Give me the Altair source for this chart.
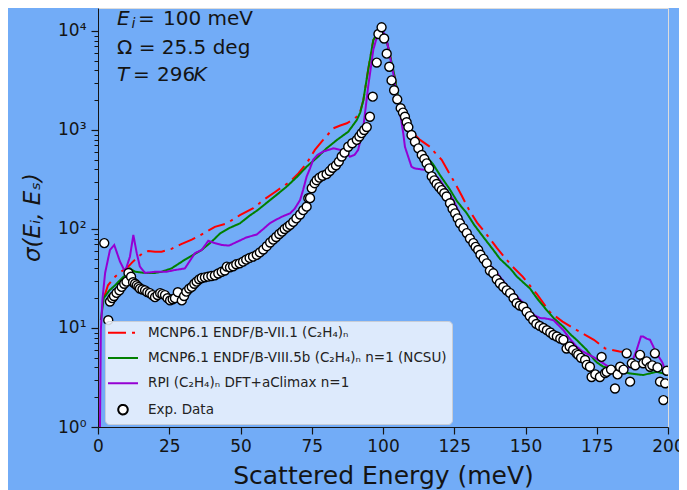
import altair as alt
import pandas as pd

S_RED = "MCNP6.1 ENDF/B-VII.1 (C₂H₄)ₙ"
S_GREEN = "MCNP6.1 ENDF/B-VIII.5b (C₂H₄)ₙ n=1 (NCSU)"
S_PURPLE = "RPI (C₂H₄)ₙ DFT+aClimax n=1"
S_EXP = "Exp. Data"

series_names = [S_RED, S_GREEN, S_PURPLE, S_EXP]
series_colors = ["#ff0000", "#008000", "#9400d3", "#000000"]

x_ticks = [0, 25, 50, 75, 100, 125, 150, 175, 200]
y_major = [1, 10, 100, 1000, 10000]
y_minor = [m * 10 ** k for k in range(4) for m in range(2, 10)]

red_curve = [(2, 20), (3.5, 27), (6, 33), (8, 37), (10, 40), (12, 46), (14, 52), (16, 58), (17.7, 60),
             (20, 59), (22.3, 59), (25.8, 63), (29, 70), (32.9, 78), (37, 90), (41, 105), (45.2, 114),
             (49.8, 138), (54.5, 162), (58, 196), (62, 235), (64, 258), (67.4, 301), (70.3, 364),
             (73.2, 460), (76.1, 630), (79, 795), (82.6, 1040), (85, 1110), (87.3, 1170), (89.5, 1280),
             (91.7, 1420), (93.1, 2000), (94.8, 4060), (96.6, 8100), (98.7, 10200), (100.1, 9400),
             (101.5, 7500), (103.6, 4060), (106, 1720), (108.3, 1100), (110, 960), (113, 795),
             (116.5, 676), (118, 600), (120.6, 500), (122.9, 380), (125, 300), (127.5, 220), (130, 160),
             (133, 116), (136, 91), (140, 64), (145, 43), (149, 33), (154, 22), (158.5, 14.5), (163, 11.6),
             (168, 9.5), (174, 7.6), (178, 6.2), (183, 5.8), (189, 5.5), (193, 4.8), (196, 4.1), (199.5, 3.6)]

green_curve = [(1.0, 12), (2, 20), (4, 24), (6, 27), (8, 31), (9.5, 34), (11.2, 40), (13, 37), (16.5, 36),
               (20, 36), (22.3, 37), (25.8, 40), (28, 44), (30.5, 49), (33, 54), (36.4, 61.5), (40, 75),
               (42.8, 90), (46, 102), (49.8, 114), (53, 135), (56, 155), (60.4, 196), (63, 225), (66.2, 268),
               (70, 340), (73.2, 426), (77, 530), (80.2, 653), (84, 800), (87.8, 960), (90.8, 1260),
               (92, 1500), (93.1, 2000), (94.8, 4060), (96.6, 8100), (98.7, 10200), (100.1, 9400),
               (101.5, 7500), (103.6, 4060), (106, 1720), (108.3, 1070), (109.5, 930), (113, 650),
               (117.6, 450), (120, 350), (123.5, 250), (126, 190), (129.4, 144), (132, 110), (135.2, 83),
               (138.7, 61.5), (141, 50), (144.6, 40), (147, 33), (151.6, 25), (154, 20), (157.4, 15.2),
               (160, 12.5), (163.3, 10.3), (166, 8.5), (167.9, 7.6), (171.5, 6.0), (173.8, 4.9), (175, 4.5),
               (177.3, 4.06), (180, 3.9), (182, 3.76), (186.7, 3.47), (191.3, 3.35), (194, 3.5), (196, 3.6),
               (198, 3.5), (199.5, 3.35)]

purple_curve = [(0.6, 0.5), (1.0, 9.6), (1.6, 20), (2.5, 36), (4.2, 61.5), (5.7, 69), (7.7, 47), (9.5, 37),
                (11.2, 52.5), (12.4, 87), (13.6, 57), (14.7, 41.7), (16.5, 36), (20, 37), (24, 37), (27, 38.5),
                (30.5, 40), (34, 57), (36.4, 61.5), (38.7, 76), (41, 72), (43.4, 69), (46, 68), (48.7, 74),
                (52, 82), (55.7, 88), (58, 100), (60.4, 115), (62.7, 125), (65, 135), (67.4, 144), (69, 160),
                (70.9, 196), (72, 250), (73.2, 338), (74.4, 410), (75.5, 500), (77, 560), (79, 605),
                (82.6, 653), (85, 630), (87.3, 580), (88.4, 537), (90, 560), (91.3, 630), (93.1, 1070),
                (94.8, 2750), (96.6, 6460), (98, 9000), (99.2, 10200), (100.2, 9700), (101.3, 8100),
                (103.6, 3720), (106, 1480), (107.1, 930), (107.7, 676), (110, 426), (111, 410), (114.2, 397),
                (115.3, 410), (118.8, 338), (120, 311), (122.3, 247), (124.7, 196), (127, 140), (129.4, 97),
                (131, 75), (133, 60), (136.4, 45), (138.7, 40), (141, 33), (143.4, 27), (146.9, 21),
                (150.4, 16.4), (153, 13.5), (155.1, 12.6), (157, 12.5), (159.8, 12), (163.3, 9.5), (166, 7.5),
                (167.9, 6.5), (170, 5.8), (173.8, 5.1), (177.3, 4.4), (180, 3.9), (183.2, 3.6), (186.7, 4.06),
                (189, 6.0), (190.5, 8.2), (191.3, 8.2), (192.5, 7.8), (193.7, 7.6), (196, 5.55), (198, 4.5),
                (199.5, 3.47)]

exp_points = [(2.2, 72), (3.6, 12), (4.2, 18.5), (5.0, 20), (5.6, 21), (6.5, 22.6), (7.5, 24), (8.3, 26),
              (9.2, 28), (10.0, 29.4), (10.7, 36), (11.6, 33), (12.3, 29), (13.0, 28), (13.6, 27), (14.2, 26),
              (14.7, 25), (15.6, 24.5), (16.5, 24), (17.3, 23), (18.2, 22.5), (19.1, 21.5), (20.0, 20.5),
              (20.9, 21.5), (21.8, 22.5), (22.6, 22), (23.5, 21.5), (24.4, 20), (25.3, 19), (26.2, 19.5),
              (27.0, 20), (28.0, 23), (29.4, 19), (30.2, 21), (31.0, 23.3), (32.0, 25), (32.9, 26), (33.8, 28),
              (34.6, 29.4), (35.5, 31), (36.4, 32), (37.5, 32.5), (38.6, 33), (39.8, 33.5), (41.0, 34),
              (42.2, 35.5), (43.4, 37), (44.5, 38), (45.2, 41.7), (46.3, 41), (47.4, 42), (48.5, 44),
              (49.7, 45), (50.9, 46.8), (52.0, 49), (53.2, 51), (54.4, 52.5), (55.7, 54.8), (56.8, 58),
              (58.0, 62), (59.2, 67), (60.4, 73), (61.5, 78), (62.5, 83), (63.6, 89), (64.6, 94), (65.5, 100),
              (66.5, 105), (67.4, 110), (68.5, 118), (69.6, 128), (70.9, 140), (72.0, 155), (73.2, 168),
              (73.8, 205), (74.4, 205), (75.0, 258), (76.0, 290), (76.7, 311), (77.7, 330), (78.8, 345),
              (80.2, 358), (81.3, 385), (82.3, 415), (83.5, 440), (84.5, 480), (85.5, 540), (86.5, 590),
              (87.8, 677), (89.2, 735), (90.8, 795), (91.7, 860), (92.5, 930), (93.4, 1000), (94.3, 1070),
              (95.4, 1360), (96.4, 2170), (97.8, 4800), (98.4, 9330), (99.5, 10900), (100.4, 8400),
              (101.3, 5900), (102.2, 4350), (103.0, 3170), (103.9, 2520), (105.0, 2040), (106.2, 1660),
              (107.0, 1500), (107.7, 1360), (108.3, 1200), (108.9, 1070), (110.0, 890), (111.2, 760),
              (112.4, 653), (113.6, 560), (114.5, 510), (115.3, 460), (116.2, 410), (117.1, 340), (118.0, 310),
              (118.8, 285), (119.7, 265), (120.6, 247), (121.5, 230), (122.3, 213), (123.5, 182), (124.4, 160),
              (125.3, 144), (126.2, 128), (127.0, 114), (128.2, 102), (129.4, 91), (130.5, 80), (131.7, 72),
              (132.5, 66), (133.4, 61.5), (134.2, 55), (135.3, 50), (136.4, 45), (137.5, 38), (138.7, 35.7),
              (139.9, 31), (141.0, 28.3), (142.2, 26), (143.4, 24), (144.6, 22.5), (145.8, 20), (146.9, 17.8),
              (148.0, 16.8), (149.2, 16.4), (150.4, 14.6), (151.5, 13.2), (152.7, 12), (153.8, 11),
              (155.0, 10.5), (156.3, 10), (157.5, 9.5), (158.7, 9), (159.8, 8.5), (161.0, 8.2), (162.2, 7.8),
              (163.3, 7.6), (164.4, 6.2), (165.5, 6.5), (166.7, 6.0), (167.9, 5.55), (168.5, 5.36),
              (169.5, 5.0), (170.9, 4.76), (171.5, 4.24), (172.6, 4.06), (173.2, 3.2), (174.5, 3.4),
              (176.1, 3.2), (176.7, 5.1), (177.9, 3.5), (178.5, 3.6), (180.0, 3.8), (181.4, 2.45), (182.3, 3.4),
              (183.2, 4.06), (184.4, 3.8), (185.5, 5.55), (186.7, 2.87), (187.3, 4.4), (188.5, 4.2),
              (190.2, 5.36), (191.3, 4.4), (192.5, 4.6), (193.7, 4.06), (194.5, 4.2), (195.4, 5.55),
              (196.3, 4.0), (197.2, 2.87), (198.4, 1.87), (199.0, 2.76), (199.6, 3.7)]


def frame(pairs, name):
    return pd.DataFrame({"E": [p[0] for p in pairs], "sigma": [p[1] for p in pairs], "series": name})


lines_df = pd.concat([frame(red_curve, S_RED), frame(green_curve, S_GREEN), frame(purple_curve, S_PURPLE)])
exp_df = frame(exp_points, S_EXP)

FONT = "DejaVu Sans"
BG = "#72acf7"
INK = "#141414"

x_enc = alt.X("E:Q", scale=alt.Scale(domain=[0, 200], nice=False, zero=False),
              axis=alt.Axis(values=x_ticks, grid=False, tickSize=7, tickWidth=1.2, tickColor=INK,
                            domainColor=INK, labelFontSize=17, labelColor=INK, labelFont=FONT,
                            labelPadding=4, labelFlush=False,
                            title="Scattered Energy (meV)", titleFontSize=25, titleFont=FONT,
                            titleFontWeight="normal", titleColor=INK,
                            titleX=285, titleY=56, titleAlign="center", titleBaseline="alphabetic"))
y_scale = alt.Scale(type="log", domain=[1, 17070], nice=False)
y_axis = alt.Axis(values=y_major, grid=False, tickSize=7, tickWidth=1.2, tickColor=INK, domainColor=INK,
                  labelFontSize=17, labelColor=INK, labelFont=FONT, labelPadding=5, labelFlush=False,
                  labelExpr="'10' + ['⁰','¹','²','³','⁴'][round(log(datum.value)/LN10)]",
                  title="σ(Eᵢ, Eₛ)", titleFontSize=23, titleFont=FONT, titleFontStyle="italic",
                  titleFontWeight="normal", titleColor=INK, titleAngle=270, titleAlign="center",
                  titleBaseline="bottom", titleX=-54, titleY=209)

circle_path = "M-1,0A1,1,0,1,0,1,0A1,1,0,1,0,-1,0Z"
stroke_path = "M-3.16,0L3.16,0"


def make_legend():
    return alt.Legend(
        title=None, orient="none", legendX=7, legendY=313,
        symbolSize=90, symbolStrokeWidth=2, symbolOffset=6.25, symbolFillColor="#ffffff", symbolOpacity=1,
        labelFont=FONT, labelFontSize=13.5, labelColor="#222222", labelLimit=600, labelOffset=18.25,
        padding=5, rowPadding=10.3, fillColor="rgba(236,243,253,0.88)", strokeColor="#c8cdd6",
        cornerRadius=4,
    )


color_enc = alt.Color("series:N", scale=alt.Scale(domain=series_names, range=series_colors),
                      legend=make_legend())

lines = alt.Chart(lines_df).mark_line(strokeWidth=2, clip=True).encode(
    x=x_enc,
    y=alt.Y("sigma:Q", scale=y_scale, axis=y_axis),
    color=color_enc,
    strokeDash=alt.StrokeDash("series:N",
                              scale=alt.Scale(domain=series_names,
                                              range=[[18, 6, 3, 6], [1, 0], [1, 0], [1, 0]]),
                              legend=make_legend()),
)

points = alt.Chart(exp_df).mark_point(filled=False, size=80, strokeWidth=1.4, opacity=1, clip=True).encode(
    x=x_enc,
    y=alt.Y("sigma:Q", scale=y_scale, axis=y_axis),
    color=color_enc,
    shape=alt.Shape("series:N",
                    scale=alt.Scale(domain=series_names,
                                    range=[stroke_path, stroke_path, stroke_path, circle_path]),
                    legend=make_legend()),
    fill=alt.value("#ffffff"),
)

minor_df = pd.DataFrame({"v": y_minor})
minor = alt.Chart(minor_df).mark_point(opacity=0).encode(
    y=alt.Y("v:Q", scale=y_scale,
            axis=alt.Axis(orient="left", values=y_minor, labels=False, domain=False, grid=False,
                          tickSize=4, tickWidth=1, tickColor=INK, title=None)),
)

anno_df = pd.DataFrame({"k": [0]})


def txt(s, x, y, size=20, style="normal"):
    return alt.Chart(anno_df).mark_text(text=s, font=FONT, fontSize=size, fontStyle=style, align="left",
                                        baseline="alphabetic", color=INK).encode(
        x=alt.value(x), y=alt.value(y))


texts = [
    txt("E", 19, 16.5, style="italic"),
    txt("i", 33.5, 19.5, size=14, style="italic"),
    txt("=", 40, 16.5),
    txt("100 meV", 65, 16.5),
    txt("Ω = 25.5 deg", 19, 46),
    txt("T", 19, 73, style="italic"),
    txt("=", 35, 73),
    txt("296", 59, 73),
    txt("K", 95.5, 73, style="italic"),
]

chart = alt.layer(
    alt.layer(lines, points),
    minor,
    *texts,
).resolve_axis(y="independent").properties(
    width=570, height=419,
    padding={"left": 90, "top": 0, "right": 11, "bottom": 63},
    autosize=alt.AutoSizeParams(type="none"),
    background=BG,
).configure_view(stroke=INK, strokeWidth=1.2).configure(font=FONT)

chart.save("out.html", embed_options={"renderer": "svg", "actions": False})
